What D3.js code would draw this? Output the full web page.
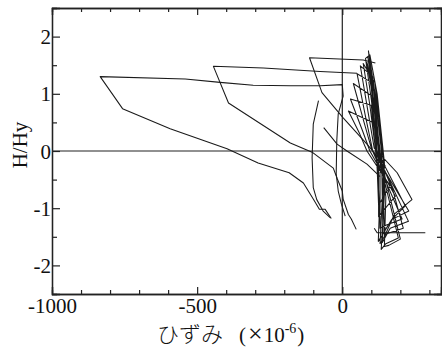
<!DOCTYPE html>
<html lang="ja">
<head>
<meta charset="UTF-8">
<title>H/Hy - strain</title>
<script src="https://d3js.org/d3.v7.min.js"></script>
<style>
  body { margin: 0; background: #fff; }
  svg { display: block; }
</style>
</head>
<body>
<script>
// axis ticks
var xMajor = [-1000, -500, 0];
var yMajor = [-2, -1, 0, 1, 2];

// strain (x1e-6), H/Hy  -- each array is one traced branch
var curveA = [[10, -1.14], [-3, -0.93], [-14, -0.70], [-21, -0.40], [-19, 0.18], [-14, 0.65], [3, 0.96],
  [0, 1.16], [-76, 1.14], [-179, 1.14], [-307, 1.15], [-421, 1.20], [-541, 1.26], [-834, 1.30],
  [-757, 0.74], [-593, 0.39], [-397, 0.04], [-290, -0.21], [-183, -0.38], [-134, -0.56],
  [-100, -0.84], [-79, -1.02], [-59, -1.02], [-38, -1.18]];
var curveB = [[51, 1.36], [-76, 1.39], [-272, 1.45], [-444, 1.48], [-392, 0.84], [-179, 0.14],
  [-104, -0.02], [-31, -0.30], [-17, -0.49], [0, -0.70], [3, -0.84], [21, -1.11], [31, -1.19], [48, -1.37]];
var curveC = [[114, 1.54], [72, 1.59], [-113, 1.63], [-70, 1.02], [3, 0.58], [85, 0.12], [148, -0.26]];
var curveD = [[-82, 0.88], [-100, 0.47], [-104, -0.12], [-100, -0.64], [-88, -0.85], [-66, -1.05], [-41, -1.17]];
var curveE = [[-64, 0.41], [-18, 0.12], [16, 0.0], [85, -0.23], [130, -0.45]];
var tail = [[110, -1.35], [120, -1.43], [286, -1.43]];
var cluster = [
  [105, 0.5], [21, 0.70], [60, 0.3], [85, 0.0], [150, -0.5], [165, -0.6], [125, -0.95], [120, -0.3],
  [100, 0.8], [28, 0.91], [70, 0.35], [95, 0.0], [183, -0.79], [140, -1.05], [125, -1.15], [125, 0.0],
  [105, 0.95], [38, 1.18], [75, 0.5], [100, 0.05], [206, -1.19], [150, -1.3], [130, -1.35], [130, 0.0],
  [100, 1.2], [51, 1.35], [80, 0.6], [105, 0.0], [229, -1.05], [170, -1.2], [140, -1.45], [135, 0.0],
  [105, 1.3], [62, 1.49], [88, 0.7], [110, 0.05], [189, -0.38], [240, -0.85], [180, -1.1], [145, -1.5], [140, 0.0],
  [112, 1.2], [72, 1.53], [95, 0.8], [115, 0.0], [228, -1.23], [165, -1.35], [138, -1.6], [145, -0.2],
  [120, 1.0], [95, 1.68], [80, 1.62], [100, 0.9], [120, 0.0], [193, -1.52], [150, -1.62], [134, -1.72], [148, -0.5],
  [125, 0.6], [90, 1.75], [98, 1.4], [108, 0.6], [125, 0.0], [200, -1.54], [160, -1.65], [145, -1.67], [150, -0.8],
  [118, 0.5], [88, 1.65], [105, 1.0], [130, -0.1], [217, -0.96], [170, -1.2], [124, -1.58], [128, -1.0],
  [110, 1.0], [85, 1.55], [100, 1.1], [118, 0.0], [175, -0.7], [210, -1.35], [150, -1.45], [130, -1.62], [140, -0.6],
  [112, 0.9], [92, 1.6]
];
var branches = [curveA, curveB, curveC, curveD, curveE, tail, cluster];

var W = 442, H = 349;
var mLeft = 52, mRight = 441, mTop = 8, mBottom = 294;

var svg = d3.select("body").append("svg")
    .attr("width", W)
    .attr("height", H);

var x = d3.scaleLinear().domain([-1000, 340]).range([mLeft, mRight]);
var y = d3.scaleLinear().domain([-2.5, 2.5]).range([mBottom, mTop]);

var serif = "'Liberation Serif', 'DejaVu Serif', serif";
var fmt = function (d) { return String(d); };
var xMinor = d3.range(-900, 340, 100).filter(function (d) { return d % 500; });
var yMinor = [-1.5, -0.5, 0.5, 1.5];

// bottom axis
var gx = svg.append("g").attr("transform", "translate(0," + mBottom + ")")
    .call(d3.axisBottom(x).tickValues(xMajor).tickFormat(fmt).tickSize(-7).tickPadding(4));
svg.append("g").attr("transform", "translate(0," + mBottom + ")")
    .call(d3.axisBottom(x).tickValues(xMinor).tickFormat("").tickSize(-4));
// top axis (ticks only)
svg.append("g").attr("transform", "translate(0," + mTop + ")")
    .call(d3.axisTop(x).tickValues(xMajor).tickFormat("").tickSize(-7));
svg.append("g").attr("transform", "translate(0," + mTop + ")")
    .call(d3.axisTop(x).tickValues(xMinor).tickFormat("").tickSize(-4));
// left axis
var gy = svg.append("g").attr("transform", "translate(" + mLeft + ",0)")
    .call(d3.axisLeft(y).tickValues(yMajor).tickFormat(fmt).tickSize(-8).tickPadding(1));
svg.append("g").attr("transform", "translate(" + mLeft + ",0)")
    .call(d3.axisLeft(y).tickValues(yMinor).tickFormat("").tickSize(-5));
// right axis (ticks only)
svg.append("g").attr("transform", "translate(" + mRight + ",0)")
    .call(d3.axisRight(y).tickValues(yMajor).tickFormat("").tickSize(-7));
svg.append("g").attr("transform", "translate(" + mRight + ",0)")
    .call(d3.axisRight(y).tickValues(yMinor).tickFormat("").tickSize(-4));

svg.selectAll(".domain").attr("stroke", "#222").attr("stroke-width", 1.3);
svg.selectAll(".tick line").attr("stroke", "#222").attr("stroke-width", 1.2);
svg.selectAll(".tick text").attr("font-family", serif).attr("font-size", 21).attr("fill", "#111");
gx.selectAll(".tick text").attr("dy", "0.72em");
gy.selectAll(".tick text").attr("dy", "0.34em");

// zero lines
svg.append("line")
    .attr("x1", mLeft).attr("x2", mRight).attr("y1", y(0)).attr("y2", y(0))
    .attr("stroke", "#222").attr("stroke-width", 1.2);
svg.append("line")
    .attr("x1", x(0)).attr("x2", x(0)).attr("y1", mTop).attr("y2", mBottom)
    .attr("stroke", "#222").attr("stroke-width", 1.2);

// hysteresis curves
var line = d3.line().x(function (d) { return x(d[0]); }).y(function (d) { return y(d[1]); });
svg.append("g").selectAll("path")
    .data(branches)
    .enter().append("path")
    .attr("d", line)
    .attr("fill", "none")
    .attr("stroke", "#1a1a1a")
    .attr("stroke-width", 1.05)
    .attr("stroke-linejoin", "round");

// axis titles
svg.append("text")
    .attr("transform", "translate(27,145) rotate(-90)")
    .attr("text-anchor", "middle")
    .attr("font-family", serif)
    .attr("font-size", 21)
    .attr("fill", "#111")
    .text("H/Hy");

var xt = svg.append("text")
    .attr("x", 157).attr("y", 342)
    .attr("font-size", 21)
    .attr("fill", "#111");
xt.append("tspan").attr("font-family", "'Noto Sans CJK JP', sans-serif").attr("font-weight", 300)
    .attr("font-size", 22).text("ひずみ");
xt.append("tspan").attr("font-family", serif).attr("dx", 16).text("(");
xt.append("tspan").attr("font-family", serif).attr("font-size", 26).attr("dx", 2).text("×");
xt.append("tspan").attr("font-family", serif).attr("dx", 1).text("10");
xt.append("tspan").attr("font-family", serif).attr("font-size", 14).attr("dy", -9).text("-6");
xt.append("tspan").attr("font-family", serif).attr("dy", 9).attr("dx", 1).text(")");
</script>
</body>
</html>
